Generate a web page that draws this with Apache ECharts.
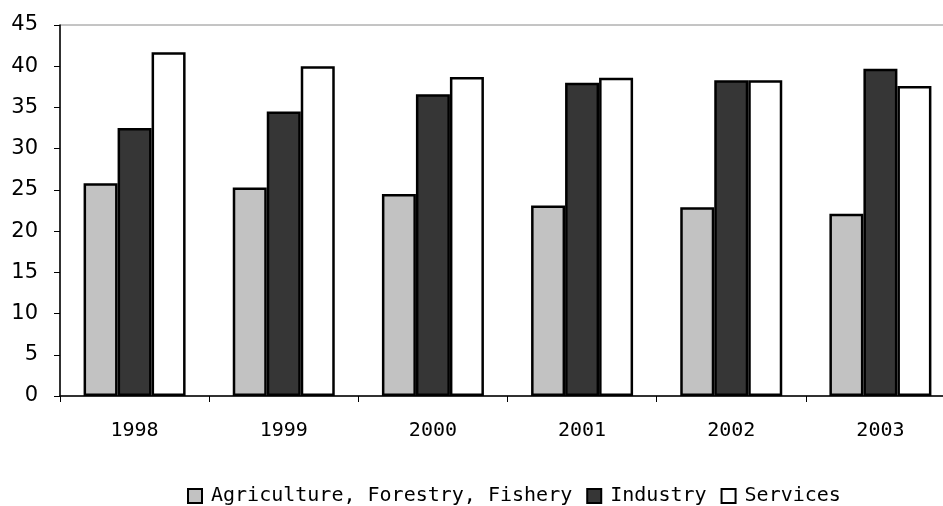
<!DOCTYPE html>
<html>
<head>
<meta charset="utf-8">
<script src="https://cdn.jsdelivr.net/npm/echarts@6/dist/echarts.min.js"></script>
<style>
  html, body { margin: 0; padding: 0; background: #fff; }
  #chart { width: 943px; height: 506px; }
</style>
</head>
<body>
<div id="chart"></div>
<script>
// data (% share of GDP)
const years = ['1998', '1999', '2000', '2001', '2002', '2003'];
const agriculture = [25.8, 25.3, 24.5, 23.1, 22.9, 22.1];
const industry = [32.5, 34.5, 36.6, 38.0, 38.3, 39.7];
const services = [41.7, 40.0, 38.7, 38.6, 38.3, 37.6];

const font = 'DejaVu Sans';
const wideFont = 'DejaVu Sans Mono'; // the original text is letter-spaced

function bar (name, data, color) {
  return {
    name: name,
    type: 'bar',
    data: data,
    barWidth: 34,
    barGap: '0%',
    itemStyle: {
      color: color,
      borderColor: '#000',
      borderWidth: 2.5
    }
  };
}

const chart = echarts.init(document.getElementById('chart'));
chart.setOption({
  animation: false,
  backgroundColor: '#fff',
  // plot runs a bit past the right edge of the picture
  grid: {
    left: 60, top: 25, width: 895, bottom: 110,
    outerBoundsMode: 'none',
    show: true, borderColor: '#8a8a8a', borderWidth: 1
  },
  legend: {
    top: 481,
    left: 182,
    itemWidth: 14,
    itemHeight: 14,
    itemGap: 14,
    icon: 'rect',
    textStyle: { fontFamily: wideFont, fontSize: 20, color: '#000', padding: [0, 0, 0, 4] },
    data: ['Agriculture, Forestry, Fishery', 'Industry', 'Services']
  },
  xAxis: {
    type: 'category',
    data: years,
    axisLine: { lineStyle: { color: '#000', width: 1.5 } },
    axisTick: { show: true, length: 6, lineStyle: { color: '#000' } },
    axisLabel: { fontFamily: wideFont, fontSize: 20, color: '#000', margin: 25 }
  },
  yAxis: {
    type: 'value',
    min: 0,
    max: 45,
    interval: 5,
    axisLine: { show: true, lineStyle: { color: '#000', width: 1.5 } },
    axisTick: { show: true, length: 6, lineStyle: { color: '#000' } },
    splitLine: { show: false },
    axisLabel: { fontFamily: font, fontSize: 21, color: '#000', margin: 22 }
  },
  series: [
    bar('Agriculture, Forestry, Fishery', agriculture, '#c2c2c2'),
    bar('Industry', industry, '#363636'),
    bar('Services', services, '#ffffff')
  ]
});
</script>
</body>
</html>
